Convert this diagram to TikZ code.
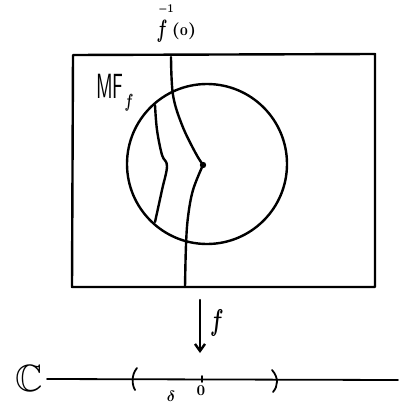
\documentclass[tikz,border=0pt]{standalone}
\usepackage{amssymb}
\usepackage{graphicx}
\usetikzlibrary{arrows.meta}
\begin{document}
\begin{tikzpicture}[x=1pt,y=-1pt,
  ink/.style={line width=2.4pt, line cap=round, line join=round},
  thin ink/.style={line width=1.8pt, line cap=round, line join=round},
  lbl/.style={inner sep=0pt, outer sep=0pt}]
\useasboundingbox (0,0) rectangle (406,404);
% box
\draw[ink] (73,55) -- (375,54) -- (375,287) -- (72,287) -- cycle;
% disc
\draw[ink] (207,164) circle (80);
% central fibre f^{-1}(0)
\coordinate (crit) at (203,165);
\draw[ink] plot[smooth, tension=0.6] coordinates {(171,57) (173,95) (182,125) (195,152) (203,165)};
\draw[ink] plot[smooth, tension=0.6] coordinates {(203,165) (193,190) (188,217) (186,245) (185,287)};
\fill (crit) circle (3.2);
% Milnor fibre
\draw[ink] plot[smooth, tension=0.6] coordinates {(155,105) (157,130) (162,155) (167,166) (162,190) (155,222)};
% labels
\node[lbl] (mf) at (110,86) {\scalebox{1.9}[3.5]{\sffamily M\kern-0.3pt F}};
\node[lbl] (mfsub) at (129,103) {\scalebox{1.3}[1.9]{\boldmath$f$}};
\node[lbl] (fibf) at (162,31) {\scalebox{1.6}[2.5]{\boldmath$f$}};
\node[lbl] (fibe) at (166,10) {\scalebox{1.3}[1.7]{\boldmath$\scriptstyle -1$}};
\node[lbl] (fibz) at (184,31) {\scalebox{1.8}[1.7]{\boldmath$(\scriptstyle 0\textstyle)$}};
% map arrow
\coordinate (atop) at (200,300);
\coordinate (abot) at (200,353);
\draw[ink, -{Straight Barb[length=7pt,width=10pt]}] (atop) -- (abot);
\node[lbl] (fl) at (217,323) {\scalebox{2}[3]{\boldmath$f$}};
% complex line
\node[lbl] (C) at (29,378) {\scalebox{3.8}{$\mathbb{C}$}};
\coordinate (l0) at (47,379);
\coordinate (l1) at (398,380);
\draw[thin ink] (l0) -- (l1);
\draw[thin ink] (137,368) .. controls (131,375) and (132,385) .. (135,390);
\draw[thin ink] (272,370) .. controls (279,378) and (278,386) .. (273,392);
\draw[thin ink] (202,376) -- (202,382);
\node[lbl] (zero) at (201,391) {\scalebox{1.5}{\boldmath$0$}};
\node[lbl] (delta) at (171,396) {\scalebox{1.5}{\boldmath$\delta$}};
\end{tikzpicture}
\end{document}
